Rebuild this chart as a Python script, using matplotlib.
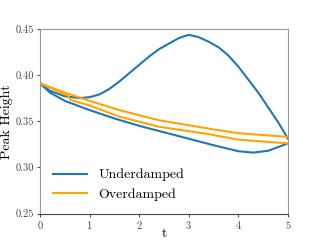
import matplotlib
matplotlib.use("Agg")
import matplotlib.pyplot as plt
import numpy as np

plt.rcParams['font.family'] = 'serif'
plt.rcParams['font.serif'] = ['cmr10', 'DejaVu Serif']
plt.rcParams['axes.formatter.use_mathtext'] = True
plt.rcParams['mathtext.fontset'] = 'cm'

t_under_a = [0.0, 0.2, 0.5, 0.8, 1.0, 1.2, 1.4, 1.6, 1.8, 2.0, 2.2, 2.4, 2.6, 2.8, 3.0,
             3.2, 3.4, 3.6, 3.8, 4.0, 4.2, 4.4, 4.6, 4.8, 5.0]
under_a = [0.391, 0.383, 0.377, 0.375, 0.376, 0.379, 0.385, 0.393, 0.402, 0.411, 0.420,
           0.428, 0.434, 0.440, 0.4435, 0.441, 0.436, 0.430, 0.421, 0.409, 0.395, 0.381,
           0.365, 0.349, 0.331]

t_under_b = [0.0, 0.2, 0.5, 1.0, 1.5, 2.0, 2.5, 3.0, 3.5, 4.0, 4.3, 4.6, 5.0]
under_b = [0.391, 0.381, 0.372, 0.362, 0.353, 0.345, 0.338, 0.331, 0.324, 0.3175, 0.316,
           0.318, 0.326]

t_over_a = [0.0, 0.5, 1.0, 1.6, 2.4, 3.4, 4.0, 5.0]
over_a = [0.391, 0.381, 0.372, 0.362, 0.351, 0.342, 0.337, 0.333]

t_over_b = [0.0, 0.3, 0.55, 0.62, 1.0, 1.6, 2.4, 3.4, 4.0, 5.0]
over_b = [0.391, 0.384, 0.378, 0.373, 0.367, 0.355, 0.344, 0.336, 0.330, 0.326]

fig, ax = plt.subplots(figsize=(3.2, 2.4), dpi=100)
ax.plot(t_under_a, under_a, color='#1f77b4', lw=1.5, label='Underdamped')
ax.plot(t_under_b, under_b, color='#1f77b4', lw=1.5)
ax.plot(t_over_a, over_a, color='orange', lw=1.5, label='Overdamped')
ax.plot(t_over_b, over_b, color='orange', lw=1.5)

ax.set_xlim(0, 5)
ax.set_ylim(0.25, 0.45)
ax.set_xticks([0, 1, 2, 3, 4, 5])
ax.set_yticks([0.25, 0.30, 0.35, 0.40, 0.45])
ax.set_yticklabels(['0.25', '0.30', '0.35', '0.40', '0.45'])
ax.tick_params(labelsize=7.5, length=2.5, width=0.8, pad=1.5,
               colors='#555555', labelcolor='#444444')
for side in ['left', 'top', 'right']:
    ax.spines[side].set_color('#999999')
ax.spines['bottom'].set_color('#444444')
ax.set_xlabel('t', fontsize=10, labelpad=-2)
ax.set_ylabel('Peak Height', fontsize=10, labelpad=2)
ax.legend(loc='lower left', frameon=False, fontsize=10, handlelength=2.5)

fig.savefig('out.png', dpi=100)
